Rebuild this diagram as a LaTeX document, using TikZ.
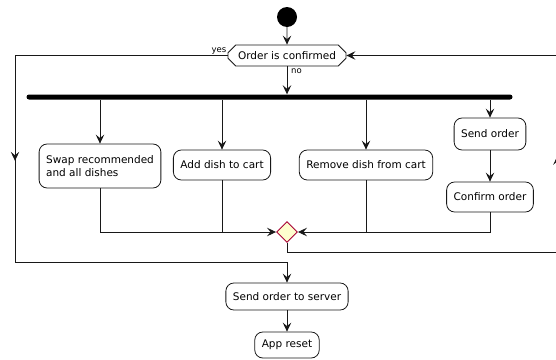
\documentclass[tikz,border=0pt]{standalone}
\usepackage{fontspec}
\setmainfont{DejaVu Sans}
\usetikzlibrary{arrows.meta,shapes.misc,shapes.geometric,decorations.markings}
\definecolor{lineclr}{HTML}{181818}
\definecolor{mergefill}{HTML}{FEFECE}
\definecolor{mergeline}{HTML}{A80036}
\tikzset{
  x=1pt, y=-1pt,
  every node/.style={font=\fontsize{10.5}{12.5}\selectfont, text=black},
  act/.style={draw=lineclr, line width=0.8pt, rounded corners=8pt, fill=white,
    inner xsep=7pt, inner ysep=0pt, minimum height=#1},
  act/.default=29pt,
  tip/.style={-{Stealth[length=9pt,width=8.5pt,inset=3.5pt]}},
  flow/.style={draw=lineclr, line width=0.9pt, tip},
  plain/.style={draw=lineclr, line width=0.9pt},
  mid/.style={decoration={markings, mark=at position #1 with {\arrow{Stealth[length=9pt,width=8.5pt,inset=3.5pt]}}}, postaction={decorate}},
  guard/.style={font=\fontsize{8.5}{10}\selectfont, inner sep=1pt},
}
\begin{document}
\begin{tikzpicture}
\useasboundingbox (0,0) rectangle (556,359);

% start
\node[circle, fill=black, minimum size=20pt, inner sep=0pt] (start) at (287,17) {};

% decision
\node[chamfered rectangle, chamfered rectangle xsep=2cm, chamfered rectangle angle=45,
  draw=lineclr, line width=0.8pt, fill=white, minimum height=21pt, minimum width=118pt,
  inner xsep=2pt, inner ysep=0pt] (dec) at (287,55.5) {Order is confirmed};

% fork bar
\node[fill=black, rounded corners=2.5pt, minimum width=486pt, minimum height=5pt, inner sep=0pt] (fork) at (269.5,97) {};

% activities
\node[act=44pt, align=left] (swap) at (100,166) {Swap recommended\\and all dishes};
\node[act=30pt] (add) at (222,165) {Add dish to cart};
\node[act=30pt] (rem) at (366,165) {Remove dish from cart};
\node[act=32pt] (send) at (490,134) {Send order};
\node[act=30pt] (conf) at (490,197) {Confirm order};

% merge
\node[diamond, draw=mergeline, line width=0.9pt, fill=mergefill, minimum size=21pt, inner sep=0pt] (merge) at (287,232) {};

\node[act=27pt] (server) at (287,296.5) {Send order to server};
\node[act=26pt] (reset) at (287,345) {App reset};

\coordinate (lt) at (15,55.5);
\coordinate (lb) at (15,262);
\coordinate (rb) at (557.5,252);
\coordinate (rt) at (557.5,55.5);

% flows
\draw[flow] (start) -- (dec);
\draw[flow] (dec.south) -- (fork.north -| dec.south);
\node[guard, anchor=north west] at ([xshift=3pt,yshift=-1pt]dec.south) {no};
\draw[flow] (fork.south -| swap.north) -- (swap.north);
\draw[flow] (fork.south -| add.north) -- (add.north);
\draw[flow] (fork.south -| rem.north) -- (rem.north);
\draw[flow] (fork.south -| send.north) -- (send.north);
\draw[flow] (send) -- (conf);

\draw[flow] (swap.south) |- (merge.west);
\draw[plain] (add.south) -- (add.south |- merge.west);
\draw[flow] (conf.south) |- (merge.east);
\draw[plain] (rem.south) -- (rem.south |- merge.east);

% yes branch
\node[guard, anchor=south east] at (dec.west) {yes};
\draw[plain] (dec.west) -- (lt);
\draw[plain, mid=0.51] (lt) -- (lb);
\draw[flow] (lb) -| (server.north);

% loop back
\draw[plain] (merge.south) |- (rb);
\draw[plain, mid=0.49] (rb) -- (rt);
\draw[flow] (rt) -- (dec.east);

\draw[flow] (server) -- (reset);
\end{tikzpicture}
\end{document}
